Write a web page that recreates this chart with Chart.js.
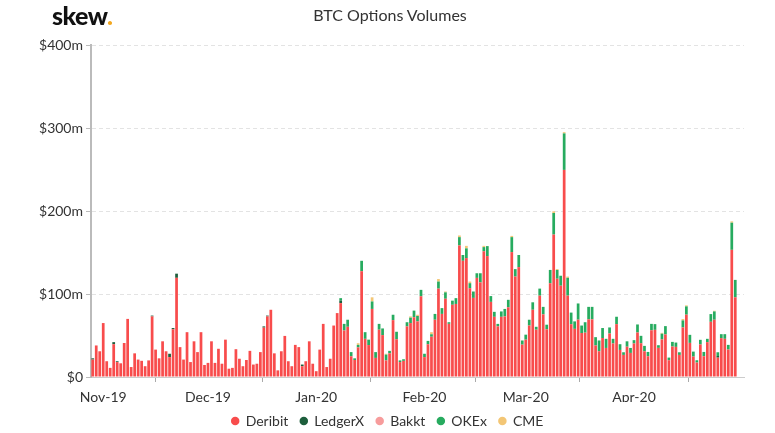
<!DOCTYPE html>
<html>
<head>
<meta charset="utf-8">
<script src="https://cdn.jsdelivr.net/npm/chart.js@4.4.1/dist/chart.umd.min.js"></script>
<style>
  html, body { margin: 0; padding: 0; background: #fff; }
  #wrap { position: relative; width: 775px; height: 433px; }
  #logo { position: absolute; left: 52px; top: 0px; font: 900 25px Lato, sans-serif; color: #111; letter-spacing: -0.5px; }
  #logo span { color: #f3a71f; }
  #title { position: absolute; left: 0; width: 780px; top: 5px; text-align: center; font: 16px Lato, sans-serif; color: #333; }
  canvas { position: absolute; left: 0; top: 0; }
</style>
</head>
<body>
<div id="wrap">
  <canvas id="chart" width="775" height="433"></canvas>
  <div id="logo">skew<span>.</span></div>
  <div id="title">BTC Options Volumes</div>
</div>
<script>
// one bar per day, 29 Oct 2019 (index 0) to 30 Apr 2020 (index 184)
const tickDays = [3, 33, 64, 95, 124, 155];
const tickLabels = ['Nov-19', 'Dec-19', 'Jan-20', 'Feb-20', 'Mar-20', 'Apr-20'];

// daily volumes in $m
const deribit = [
  21, 38, 31, 65, 19, 11, 39.5, 18, 16.5, 41,
  70, 12, 28.5, 21, 19.5, 13, 20, 73, 33, 22.5,
  43, 31, 24, 57.5, 119.5, 36, 21, 54, 18, 43,
  30, 54, 14.5, 17, 43, 17, 34, 16, 45, 10,
  11, 33.5, 22, 13, 20.5, 31.5, 15, 16, 30, 59.5,
  73, 81, 28.5, 8, 31, 49.5, 19, 13, 38.7, 36,
  13, 19, 43, 16, 7, 33, 64, 12, 22, 62,
  77, 89, 56, 60.5, 25, 20.5, 35.7, 127.5, 46, 38.5,
  82, 23, 57, 50.5, 20, 28.5, 68.5, 45.5, 18, 19.4,
  61, 65, 72, 67, 97.3, 24, 39.5, 48.5, 69, 106.5,
  76, 94.3, 64, 87, 88, 158.5, 140, 143.3, 107, 95.3,
  119.4, 114, 151.5, 145.7, 90.5, 72.5, 61, 72.5, 73, 84,
  150.5, 121, 132.4, 39, 45, 62, 81, 57, 98, 75.5,
  57.5, 113, 171.6, 118.4, 110, 249.5, 98, 63.6, 58, 69.1,
  53, 53.4, 69.5, 69.5, 38, 31, 47, 35, 52.4, 40.4,
  63.7, 32.6, 26.6, 36.5, 29, 40.4, 53.6, 40.7, 31, 25,
  56.3, 56.8, 35.1, 45.3, 51.3, 20.2, 36.7, 36.3, 26.6, 59.7,
  75.1, 41.1, 24.6, 17.4, 39.2, 25, 42, 66.5, 69, 23.3,
  46.8, 46, 33.1, 153.2, 96
];
const ledgerx = [
  1.5, 0, 0, 0, 0, 0, 2.5, 1, 0, 0,
  0, 0, 0, 0, 0, 0, 0, 1, 0, 0,
  0, 0, 4, 1.5, 5, 0, 0, 0, 0, 0,
  0, 0, 0, 0, 0, 0, 0, 0, 0, 0,
  0, 0, 0, 0, 0, 0, 0, 0, 0, 1.5,
  1, 0, 0, 0, 0, 0, 0, 0, 0, 0,
  2, 0, 0, 0, 0, 0, 0, 0, 0, 0,
  0, 3, 0, 0, 0, 0, 0, 0, 0, 0,
  0, 0, 0, 0, 0, 0, 0, 0, 0, 0,
  0, 0, 0, 0, 0, 0, 0, 0, 0, 0,
  0, 0, 0, 0, 0, 0, 0, 0, 0, 0,
  0, 0, 0, 0, 0, 0, 0, 0, 0, 0,
  0, 0, 0, 0, 0, 0, 0, 0, 0, 0,
  0, 0, 0, 0, 0, 0, 0, 0, 0, 0,
  0, 0, 0, 0, 0, 0, 0, 0, 0, 0,
  0, 0, 0, 0, 0, 0, 0, 0, 0, 0,
  0, 0, 0, 0, 0, 0, 0, 0, 0, 0,
  0, 0, 0, 0, 0, 0, 0, 0, 0, 2,
  0, 0, 0, 0, 0
];
const bakkt = [
  0, 0, 0, 0, 0, 0, 0, 0, 0, 0, 0, 0, 0, 0, 0, 0, 0, 0, 0, 0, 0, 0, 0, 0, 0, 0, 0, 0, 0, 0, 0,
  0, 0, 0, 0, 0, 0, 0, 0, 0, 0, 0, 0, 0, 0, 0, 0, 0, 0, 0, 0, 0, 0, 0, 0, 0, 0, 0, 0, 0, 0, 0,
  0, 0, 0, 0, 0, 0, 0, 0, 0, 0, 0, 0, 0, 0, 0, 0, 0, 0, 0, 0, 0, 0, 0, 0, 0, 0, 0, 0, 0, 0, 0,
  0, 0, 0, 0, 0, 0, 0, 0, 0, 0, 0, 0, 0, 0, 0, 0, 0, 0, 0, 0, 0, 0, 0, 0, 0, 0, 0, 0, 0, 0, 0,
  0, 0, 0, 0, 0, 0, 0, 0, 0, 0, 0, 0, 0, 0, 0, 0, 0, 0, 0, 0, 0, 0, 0, 0, 0, 0, 0, 0, 0, 0, 0,
  0, 0, 0, 0, 0, 0, 0, 0, 0, 0, 0, 0, 0, 0, 0, 0, 0, 0, 0, 0, 0, 0, 0, 0, 0, 0, 0, 0, 0, 0
];
const okex = [
  0, 0, 0, 0, 0, 0, 0, 0, 0, 0,
  0, 0, 0, 0, 0, 0, 0, 0, 0, 0,
  0, 0, 0, 0, 0, 0, 0, 0, 0, 0,
  0, 0, 0, 0, 0, 0, 0, 0, 0, 0,
  0, 0, 0, 0, 0, 0, 0, 0, 0, 0,
  0, 0, 0, 0, 0, 0, 0, 0, 0, 0,
  0, 0, 0, 0, 0, 0, 0, 0, 0, 0,
  0, 3, 8, 8.5, 5, 2, 3, 12.5, 8, 6.5,
  9, 7, 7, 8, 7, 3, 6.5, 9, 2, 2,
  5, 6.5, 8, 6.5, 7.7, 4, 4, 3, 7, 8.5,
  7, 7.7, 2, 5, 7, 10, 7, 11.7, 6, 7.7,
  5.6, 11, 5, 12, 7, 6, 3, 6.5, 9, 9,
  18, 9, 14.6, 5, 6, 7, 9, 3.5, 8.5, 9,
  5.5, 16, 26, 10.6, 12, 44, 21.5, 14, 9, 19.5,
  9, 12.6, 15, 15, 10, 13, 12, 11, 7.3, 5.6,
  8.9, 6.9, 3.2, 6.5, 6, 4, 9.7, 8.9, 6.5, 5.2,
  7.7, 6.9, 3.2, 6.9, 10, 3.2, 5.6, 5.2, 3.2, 8.5,
  10, 9.7, 6, 2.8, 5.6, 5.2, 4, 9.3, 10, 4.5,
  4.8, 5.6, 5.6, 32.7, 21
];
const cme = [
  0, 0, 0, 0, 0, 0, 0, 0, 0, 0,
  0, 0, 0, 0, 0, 0, 0, 0, 0, 0,
  0, 0, 0, 0, 0, 0, 0, 0, 0, 0,
  0, 0, 0, 0, 0, 0, 0, 0, 0, 0,
  0, 0, 0, 0, 0, 0, 0, 0, 0, 0,
  0, 0, 0, 0, 0, 0, 0, 0, 0, 0,
  0, 0, 0, 0, 0, 0, 0, 0, 0, 0,
  0, 0, 0, 0, 0, 0, 2, 0, 0, 0,
  5, 0, 0, 0, 1, 0, 0, 0, 0, 0,
  0, 1.5, 0, 1.5, 0, 0, 0, 2.5, 0, 3,
  0, 1, 0, 0, 0, 2, 0, 3, 2, 0,
  0, 0, 1.5, 0, 0, 0, 0, 0, 0, 0,
  1.5, 0, 0, 0, 0, 0, 0, 0, 0, 0,
  0, 0, 2, 1, 0, 1.5, 1.5, 0, 0, 0,
  0, 0, 0, 0, 0, 0, 0, 0, 0, 0,
  0, 0, 0, 0, 0, 0, 0, 0, 0, 0,
  0, 0, 0, 1, 0, 0, 0, 0, 0, 1.6,
  1.2, 0, 0, 0, 0, 0, 0, 0, 0.8, 0,
  0, 0, 0, 1.6, 0
];

const seriesNames = ['Deribit', 'LedgerX', 'Bakkt', 'OKEx', 'CME'];
const seriesValues = [deribit, ledgerx, bakkt, okex, cme];
const seriesColors = ['#f84c4c', '#1d5e3c', '#f79c9c', '#27ab5f', '#f3c675'];

const font = { family: 'Lato', size: 14 };

const datasets = seriesNames.map(function (name, k) {
  return {
    label: name,
    data: seriesValues[k].map(function (v, i) { return { x: i, y: v }; }),
    backgroundColor: seriesColors[k],
    borderWidth: 0,
    barPercentage: 0.78,
    categoryPercentage: 1
  };
});

new Chart(document.getElementById('chart'), {
  type: 'bar',
  data: { datasets: datasets },
  options: {
    responsive: false,
    animation: false,
    layout: { padding: { left: 0, right: 0, top: 45, bottom: -5 } },
    plugins: {
      tooltip: { enabled: false },
      legend: {
        position: 'bottom',
        labels: {
          usePointStyle: true,
          pointStyle: 'circle',
          boxWidth: 7,
          boxHeight: 6,
          padding: 12,
          color: '#333',
          font: font
        }
      }
    },
    scales: {
      x: {
        type: 'linear',
        stacked: true,
        offset: false,
        min: -0.5,
        max: 186.5,
        afterBuildTicks: function (scale) {
          scale.ticks = tickDays.map(function (d) { return { value: d }; });
        },
        afterFit: function (scale) { scale.height = 25; },
        ticks: {
          autoSkip: false,
          maxRotation: 0,
          padding: 7,
          color: '#333',
          font: font,
          callback: function (v) { return tickLabels[tickDays.indexOf(v)]; }
        },
        grid: { drawOnChartArea: false, tickLength: 5, tickColor: '#aaa', tickWidth: 1 },
        border: { color: '#ccc', width: 1 }
      },
      y: {
        stacked: true,
        min: 0,
        max: 400,
        afterFit: function (scale) { scale.width = 91; },
        ticks: {
          stepSize: 100,
          padding: 3,
          color: '#333',
          font: font,
          callback: function (v) { return v === 0 ? '$0' : '$' + v + 'm'; }
        },
        grid: { color: '#e3e3e3', tickColor: '#bbb', tickLength: 5, tickBorderDash: [] },
        border: { color: '#bbb', width: 2, dash: [4, 3] }
      },
      // empty right-hand gutter so the legend stays centred on the page
      gutter: {
        type: 'linear',
        position: 'right',
        display: true,
        afterFit: function (scale) { scale.width = 31; },
        ticks: { display: false },
        grid: { display: false },
        border: { display: false }
      }
    }
  }
});
</script>
</body>
</html>
